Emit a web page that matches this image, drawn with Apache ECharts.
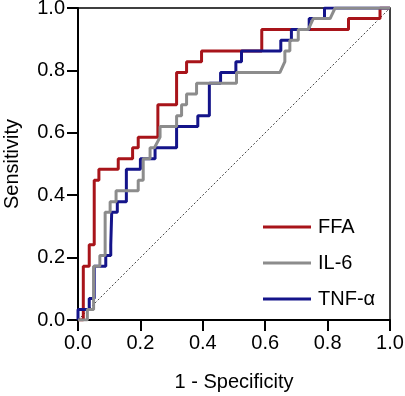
<!DOCTYPE html>
<html>
<head>
<meta charset="utf-8">
<script src="https://cdn.jsdelivr.net/npm/echarts@6/dist/echarts.min.js"></script>
<style>
  html, body { margin: 0; padding: 0; background: #fff; }
  #chart { width: 405px; height: 396px; }
</style>
</head>
<body>
<div id="chart"></div>
<script>
// ROC points: [1 - specificity, sensitivity]
var ffaPoints = [
  [0, 0], [0.017, 0], [0.017, 0.172], [0.036, 0.172], [0.036, 0.241], [0.052, 0.241],
  [0.052, 0.448], [0.067, 0.448], [0.067, 0.483], [0.129, 0.483], [0.129, 0.517],
  [0.175, 0.517], [0.175, 0.552], [0.193, 0.552], [0.193, 0.586], [0.256, 0.586],
  [0.256, 0.69], [0.316, 0.69], [0.316, 0.793], [0.348, 0.793], [0.348, 0.828],
  [0.396, 0.828], [0.396, 0.862], [0.589, 0.862], [0.589, 0.931], [0.867, 0.931],
  [0.867, 0.966], [0.968, 0.966], [0.968, 1], [1, 1]
];
var il6Points = [
  [0, 0], [0.03, 0], [0.03, 0.034], [0.05, 0.034], [0.05, 0.172], [0.07, 0.172],
  [0.07, 0.207], [0.087, 0.207], [0.087, 0.345], [0.103, 0.345], [0.103, 0.379],
  [0.122, 0.379], [0.122, 0.414], [0.193, 0.414], [0.193, 0.448], [0.209, 0.448],
  [0.209, 0.517], [0.231, 0.517], [0.231, 0.552], [0.245, 0.552], [0.263, 0.586],
  [0.263, 0.62], [0.316, 0.62], [0.316, 0.655], [0.332, 0.655], [0.332, 0.69],
  [0.348, 0.69], [0.348, 0.724], [0.38, 0.724], [0.38, 0.759], [0.508, 0.759],
  [0.508, 0.793], [0.647, 0.793], [0.663, 0.828], [0.663, 0.862], [0.679, 0.862],
  [0.679, 0.897], [0.706, 0.897], [0.706, 0.931], [0.738, 0.931], [0.754, 0.966],
  [0.808, 0.966], [0.824, 1], [1, 1]
];
var tnfPoints = [
  [0, 0], [0, 0.034], [0.036, 0.034], [0.036, 0.069], [0.052, 0.069], [0.052, 0.172],
  [0.089, 0.172], [0.089, 0.207], [0.105, 0.207], [0.105, 0.241], [0.108, 0.241],
  [0.108, 0.345], [0.126, 0.345], [0.126, 0.379], [0.155, 0.379], [0.155, 0.483],
  [0.2, 0.483], [0.2, 0.517], [0.247, 0.517], [0.247, 0.552], [0.316, 0.552],
  [0.316, 0.62], [0.384, 0.62], [0.384, 0.655], [0.421, 0.655], [0.421, 0.759],
  [0.457, 0.759], [0.457, 0.793], [0.506, 0.793], [0.506, 0.828], [0.524, 0.828],
  [0.524, 0.862], [0.65, 0.862], [0.65, 0.897], [0.684, 0.897], [0.684, 0.931],
  [0.741, 0.931], [0.741, 0.966], [0.79, 0.966], [0.79, 1], [1, 1]
];
var refLine = [[0, 0], [1, 1]];
var seriesNames = ['FFA', 'IL-6', 'TNF-α'];

var font = 'Liberation Sans, Arial, sans-serif';
var myChart = echarts.init(document.getElementById('chart'));

var axisCommon = {
  type: 'value',
  min: 0,
  max: 1,
  interval: 0.2,
  nameLocation: 'middle',
  nameTextStyle: { fontFamily: font, fontSize: 20, color: '#000' },
  axisLine: { show: true, lineStyle: { color: '#000', width: 2 } },
  axisTick: { show: true, length: 11, lineStyle: { color: '#000', width: 2 } },
  axisLabel: {
    margin: 13,
    fontFamily: font,
    fontSize: 20,
    color: '#000',
    formatter: function (v) { return v.toFixed(1); }
  },
  splitLine: { show: false }
};

myChart.setOption({
  animation: false,
  grid: {
    left: 78, right: 15, top: 8, bottom: 76,
    outerBoundsMode: 'none',
    containLabel: false,
    show: true, borderColor: '#000', borderWidth: 1.5
  },
  xAxis: Object.assign({}, axisCommon, { name: '1 - Specificity', nameGap: 52 }),
  yAxis: Object.assign({}, axisCommon, { name: 'Sensitivity', nameGap: 56 }),
  legend: {
    data: seriesNames,
    orient: 'vertical',
    left: 258,
    top: 212,
    icon: 'rect',
    itemWidth: 48,
    itemHeight: 3,
    itemGap: 16,
    textStyle: { fontFamily: font, fontSize: 20, color: '#000', padding: [0, 0, 0, 2] }
  },
  series: [
    {
      type: 'line', data: refLine, symbol: 'none', silent: true,
      lineStyle: { color: '#444', width: 1, type: [2, 2] }
    },
    {
      name: 'FFA', type: 'line', data: ffaPoints, symbol: 'none',
      lineStyle: { color: '#a8141a', width: 3 }, itemStyle: { color: '#a8141a' }
    },
    {
      name: 'TNF-α', type: 'line', data: tnfPoints, symbol: 'none',
      lineStyle: { color: '#14148a', width: 3 }, itemStyle: { color: '#14148a' }
    },
    {
      name: 'IL-6', type: 'line', data: il6Points, symbol: 'none',
      lineStyle: { color: '#8c8c8c', width: 3 }, itemStyle: { color: '#8c8c8c' }
    }
  ]
});
</script>
</body>
</html>
